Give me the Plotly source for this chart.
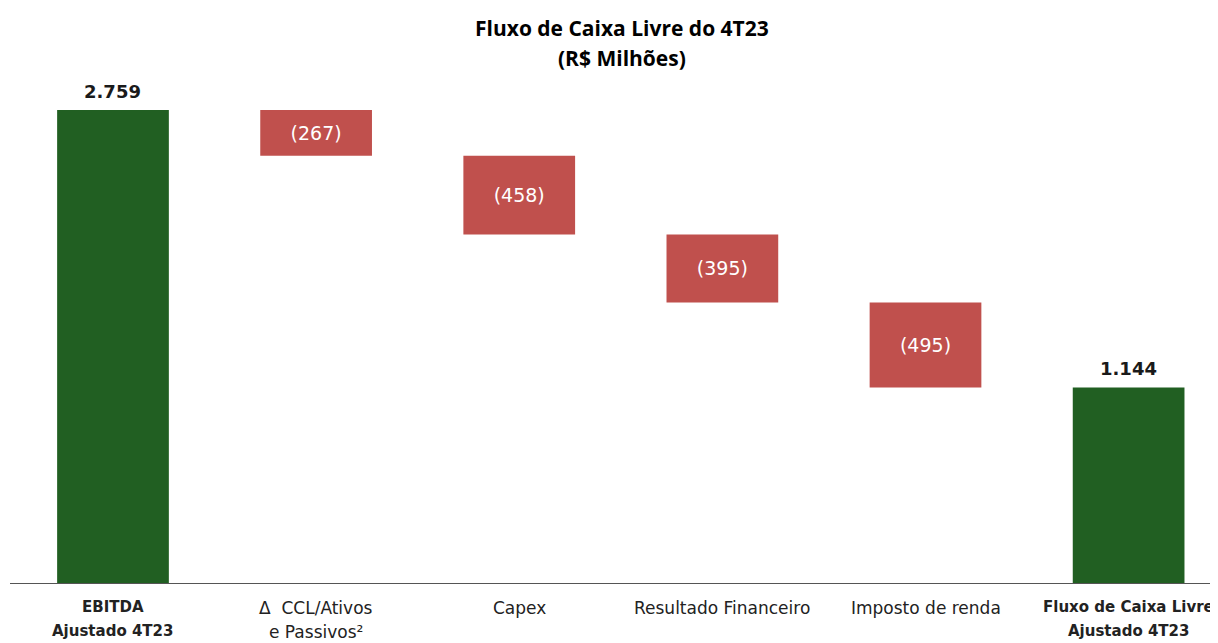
import plotly.graph_objects as go

categories = ["EBITDA Ajustado 4T23", "Δ CCL/Ativos e Passivos²", "Capex",
              "Resultado Financeiro", "Imposto de renda", "Fluxo de Caixa Livre Ajustado 4T23"]
label_line1 = ["<b>EBITDA</b>", "Δ  CCL/Ativos", "Capex",
               "Resultado Financeiro", "Imposto de renda", "<b>Fluxo de Caixa Livre</b>"]
label_line2 = ["<b>Ajustado 4T23</b>", "e Passivos²", "", "", "", "<b>Ajustado 4T23</b>"]
values = [2759, -267, -458, -395, -495, 0]
measures = ["absolute", "relative", "relative", "relative", "relative", "total"]

green = "#215F22"
red = "#C0504D"
font = "DejaVu Sans"


def fmt(v):
    if v < 0:
        return "({})".format(f"{-v:,}".replace(",", "."))
    return "<b>" + f"{v:,}".replace(",", ".") + "</b>"


total = sum(values)
texts = [fmt(v) if m == "relative" else "" for v, m in zip(values, measures)]

fig = go.Figure(go.Waterfall(
    x=list(range(len(categories))),
    y=values,
    measure=measures,
    text=texts,
    textposition="inside",
    insidetextfont=dict(color="white", size=19, family=font),
    insidetextanchor="middle",
    constraintext="none",
    increasing=dict(marker=dict(color=green)),
    decreasing=dict(marker=dict(color=red)),
    totals=dict(marker=dict(color=green)),
    connector=dict(visible=False),
    width=0.55,
    hoverinfo="skip",
))

# bold value labels above the two green bars
for i, m in enumerate(measures):
    if m == "relative":
        continue
    v = values[i] if m == "absolute" else total
    fig.add_annotation(x=i, y=v, text=fmt(v), showarrow=False, yanchor="bottom", yshift=6,
                       font=dict(size=18, family=font, color="#1a1a1a"))

# category labels as two-line annotations under the axis
for i, (a, b) in enumerate(zip(label_line1, label_line2)):
    size = 15 if a.startswith("<b>") else 17
    fig.add_annotation(x=i, y=0, yref="paper", text=a, showarrow=False,
                       yanchor="top", yshift=-12, font=dict(size=size, family=font, color="#222"))
    if b:
        fig.add_annotation(x=i, y=0, yref="paper", text=b, showarrow=False,
                           yanchor="top", yshift=-36, font=dict(size=size, family=font, color="#222"))

# title, two lines
fig.add_annotation(x=0.5066, xref="paper", y=1, yref="paper", yanchor="middle", yshift=62,
                   text="<b>Fluxo de Caixa Livre do 4T23</b>", showarrow=False,
                   font=dict(size=21, family="Open Sans", color="black"))
fig.add_annotation(x=0.5066, xref="paper", y=1, yref="paper", yanchor="middle", yshift=32,
                   text="<b>(R$ Milhões)</b>", showarrow=False,
                   font=dict(size=21, family="Open Sans", color="black"))

fig.update_layout(
    width=1210, height=635,
    margin=dict(l=2, r=0, t=82, b=59),
    plot_bgcolor="white", paper_bgcolor="white",
    showlegend=False,
    xaxis=dict(range=[-0.507, 5.44], showticklabels=False, showgrid=False,
               zeroline=False, showline=False),
    yaxis=dict(range=[0, 2875], visible=False, showgrid=False, zeroline=False),
)
fig.add_shape(type="line", xref="paper", yref="y", x0=0, x1=1, y0=0, y1=0,
              line=dict(color="#555", width=2))

fig.write_html("out.html")
